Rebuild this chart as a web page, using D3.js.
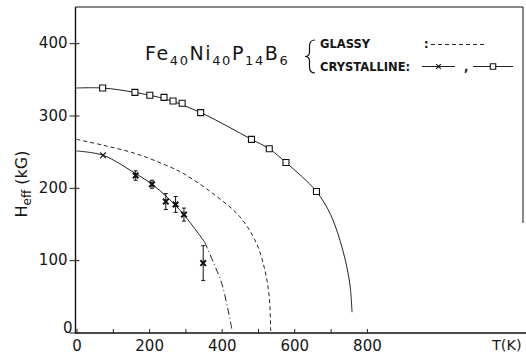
<!DOCTYPE html>
<html>
<head>
<meta charset="utf-8">
<script src="https://cdn.jsdelivr.net/npm/d3@7"></script>
<style>
  body { margin: 0; background: #fff; }
  svg text { font-family: "DejaVu Sans", sans-serif; fill: #151515; }
  .fit { fill: none; stroke: #222; stroke-width: 1; }
</style>
</head>
<body>
<div id="viewport"></div>
<script>
// crystalline, square markers
const squareT = [72, 161, 202, 241, 266, 291, 342, 482, 531, 577, 661];
const squareH = [338, 332, 328, 325, 320, 317, 304, 267, 254, 235, 195];
// crystalline, x markers with error bars
const crossT = [73, 163, 208, 246, 273, 296, 349];
const crossH = [245, 217, 205, 181, 177, 163, 96];
const crossErr = [0, 6.5, 5.5, 11, 11, 9, 24];

// drawn curves
const squareFitT = [0, 72, 160, 250, 342, 420, 482, 531, 577, 620, 661, 700, 734, 753, 759];
const squareFitH = [338, 338, 332, 322, 304, 284, 267, 254, 235, 216, 195, 163, 113, 67, 28];
const glassyFitT = [0, 73, 165, 257, 294, 376, 450, 496, 519, 531, 535];
const glassyFitH = [267, 259, 247, 229, 220, 192, 160, 123, 86, 49, 2];
const crossFitT = [0, 73, 162, 208, 250, 294, 353];
const crossFitH = [251, 245, 220, 205, 187, 164, 125];
const crossExtT = [353, 377, 400, 418, 429];
const crossExtH = [125, 97, 68, 30, 2];

const xTicks = [0, 100, 200, 300, 400, 500, 600, 700, 800];
const yTicks = [0, 100, 200, 300, 400];

const width = 526, height = 356;
const frame = { left: 75.5, right: 523, top: 7, bottom: 333 };

const x = d3.scaleLinear().domain([0, 1230]).range([76.5, 523]);
const y = d3.scaleLinear().domain([0, 450]).range([332.5, 7]);

const svg = d3.select("#viewport")
    .append("svg")
    .attr("width", width)
    .attr("height", height);

// frame: left + bottom axis, top line, partial right edge
const frameG = svg.append("g").attr("stroke", "#111").attr("fill", "none");
frameG.append("path").attr("stroke-width", 1.4)
    .attr("d", `M${frame.left},${frame.top} L${frame.left},${frame.bottom} L${width},${frame.bottom}`);
frameG.append("path").attr("stroke-width", 1)
    .attr("d", `M${frame.left},${frame.top} L${frame.right},${frame.top} L${frame.right},223`);

// x axis
const xAxis = svg.append("g")
    .attr("transform", `translate(0,${frame.bottom})`)
    .call(d3.axisBottom(x)
        .tickValues(xTicks)
        .tickSize(-4)
        .tickPadding(7)
        .tickFormat(d => d % 200 === 0 ? d : ""));
xAxis.select(".domain").remove();
xAxis.selectAll("line").attr("stroke", "#222");
xAxis.selectAll("text").attr("font-size", 15).attr("fill", "#151515");

// y axis
const yAxis = svg.append("g")
    .attr("transform", `translate(${frame.left},0)`)
    .call(d3.axisLeft(y)
        .tickValues(yTicks)
        .tickSize(6)
        .tickPadding(2));
yAxis.select(".domain").remove();
yAxis.selectAll("line").attr("stroke", "#222").attr("x2", -6).attr("x1", 4);
yAxis.selectAll("text").attr("font-size", 15).attr("fill", "#151515");
yAxis.selectAll(".tick").filter(d => d === 0).select("text")
    .attr("x", -3).attr("dy", "0");

svg.append("text")
    .attr("x", 492).attr("y", 350)
    .attr("font-size", 14.5)
    .text("T(K)");

const yLabel = svg.append("text")
    .attr("transform", "translate(27,184) rotate(-90)")
    .attr("text-anchor", "middle")
    .attr("font-size", 16);
yLabel.append("tspan").text("H");
yLabel.append("tspan").attr("font-size", 12).attr("dy", 4).text("eff");
yLabel.append("tspan").attr("dy", -4).text(" (kG)");

// curves
const line = d3.line()
    .x(d => x(d[0]))
    .y(d => y(d[1]))
    .curve(d3.curveCatmullRom.alpha(0.5));

svg.append("path").attr("class", "fit")
    .attr("d", line(d3.zip(squareFitT, squareFitH)));
svg.append("path").attr("class", "fit")
    .attr("stroke-dasharray", "4,3")
    .attr("d", line(d3.zip(glassyFitT, glassyFitH)));
svg.append("path").attr("class", "fit")
    .attr("d", line(d3.zip(crossFitT, crossFitH)));
svg.append("path").attr("class", "fit")
    .attr("stroke-dasharray", "7,3,1,3")
    .attr("d", line(d3.zip(crossExtT, crossExtH)));

// square markers
svg.selectAll(".sq")
    .data(d3.zip(squareT, squareH))
    .join("path")
    .attr("class", "sq")
    .attr("transform", d => `translate(${x(d[0])},${y(d[1])})`)
    .attr("d", d3.symbol(d3.symbolSquare, 36))
    .attr("fill", "#fff")
    .attr("stroke", "#111")
    .attr("stroke-width", 1.1);

// error bars
const crossData = d3.zip(crossT, crossH, crossErr);
const errG = svg.append("g").attr("stroke", "#111").attr("stroke-width", 1);
errG.selectAll("path")
    .data(crossData.filter(d => d[2] > 0))
    .join("path")
    .attr("d", d => {
        const cx = x(d[0]), y1 = y(d[1] + d[2]), y2 = y(d[1] - d[2]);
        return `M${cx},${y1} L${cx},${y2} M${cx - 2},${y1} L${cx + 2},${y1} M${cx - 2},${y2} L${cx + 2},${y2}`;
    });

// x markers
svg.selectAll(".cr")
    .data(crossData)
    .join("path")
    .attr("class", "cr")
    .attr("transform", d => `translate(${x(d[0])},${y(d[1])})`)
    .attr("d", d3.symbol(d3.symbolTimes, 22))
    .attr("fill", "none")
    .attr("stroke", "#111")
    .attr("stroke-width", d => d[2] > 0 ? 2 : 1.1);

// title: Fe40Ni40P14B6
const title = svg.append("text")
    .attr("x", 145).attr("y", 60)
    .attr("font-size", 19)
    .attr("letter-spacing", 1.6);
[["Fe", "40"], ["Ni", "40"], ["P", "14"], ["B", "6"]].forEach(([el, sub], i) => {
    title.append("tspan").attr("dy", i === 0 ? 0 : -5).text(el);
    title.append("tspan").attr("font-size", 13).attr("dy", 5).text(sub);
});

// brace
svg.append("path")
    .attr("fill", "none")
    .attr("stroke", "#111")
    .attr("stroke-width", 1.2)
    .attr("d", "M315,40 Q309.5,40 309.5,46 L309.5,52 Q309.5,56.5 305,56.5 Q309.5,56.5 309.5,61 L309.5,67 Q309.5,73 315,73");

// legend
const legend = svg.append("g").attr("font-size", 11.5).attr("font-weight", "bold");
legend.append("text").attr("x", 320).attr("y", 48).text("GLASSY");
legend.append("text").attr("x", 424).attr("y", 48).text(":");
legend.append("text").attr("x", 320).attr("y", 70.5).text("CRYSTALLINE:");
legend.append("text").attr("x", 464).attr("y", 70.5).text(",");

legend.append("line").attr("class", "fit")
    .attr("x1", 431).attr("x2", 486).attr("y1", 44.5).attr("y2", 44.5)
    .attr("stroke-dasharray", "4,3");
legend.append("line").attr("class", "fit")
    .attr("x1", 422).attr("x2", 455).attr("y1", 66.5).attr("y2", 66.5);
legend.append("path")
    .attr("transform", "translate(438.5,66.5)")
    .attr("d", d3.symbol(d3.symbolTimes, 16))
    .attr("fill", "none").attr("stroke", "#111").attr("stroke-width", 1.1);
legend.append("line").attr("class", "fit")
    .attr("x1", 473).attr("x2", 513).attr("y1", 66.5).attr("y2", 66.5);
legend.append("path")
    .attr("transform", "translate(493,66.5)")
    .attr("d", d3.symbol(d3.symbolSquare, 30))
    .attr("fill", "#fff").attr("stroke", "#111").attr("stroke-width", 1.1);
</script>
</body>
</html>
